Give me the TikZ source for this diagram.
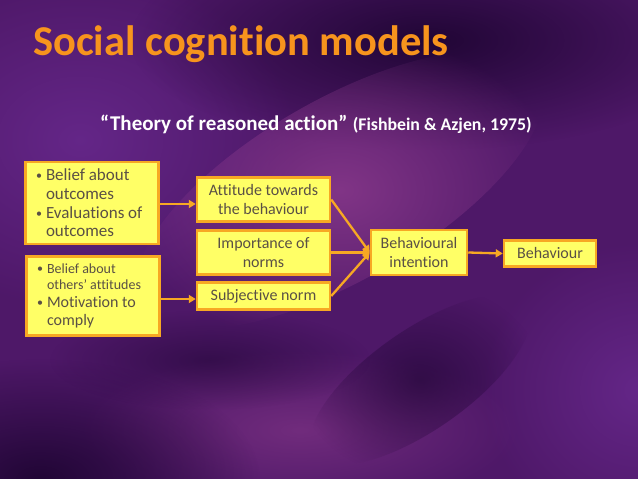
\documentclass[tikz,border=0pt]{standalone}
\usepackage{fontspec}
\setmainfont[Ligatures=NoCommon]{Carlito}
\usetikzlibrary{fadings,arrows.meta}
\definecolor{boxfill}{HTML}{FFFF66}
\definecolor{boxline}{HTML}{F7A823}
\definecolor{boxtext}{HTML}{5A5045}
\definecolor{titleor}{HTML}{F7941D}
\definecolor{bgbase}{HTML}{4E1868}
\definecolor{bgdark}{HTML}{1C0430}
\definecolor{bglight}{HTML}{8E3C8E}
\definecolor{bgviolet}{HTML}{6A2A90}
\tikzfading[name=glow, inner color=transparent!0, outer color=transparent!100]
\newcommand{\bul}{\makebox[11pt][l]{\hspace{1pt}\raisebox{0.8pt}{\fontsize{12}{12}\selectfont•}}}
\newcommand{\ind}{\hspace*{11pt}}
\begin{document}
\begin{tikzpicture}[x=1pt,y=-1pt,
  box/.style={draw=boxline, line width=2.5pt, fill=boxfill, text=boxtext,
    font=\fontsize{16}{18.3}\selectfont, align=center, inner sep=0pt},
  listbox/.style={box, align=flush left, text width=114pt, inner xsep=9.5pt},
  link/.style={draw=boxline, line width=2.3pt, -{Triangle[length=7pt,width=8pt]}},
  blob/.style={path fading=glow}]
\useasboundingbox (0,0) rectangle (638,479);
% background
\fill[bgbase] (0,0) rectangle (638,479);
\fill[bgviolet, blob, fill opacity=.8] (80,140) ellipse [x radius=220, y radius=170];
\fill[bgdark, blob, fill opacity=.9] (430,40) ellipse [x radius=300, y radius=110];
\fill[bglight, blob, fill opacity=.8, rotate around={30:(340,190)}] (340,190) ellipse [x radius=230, y radius=90];
\fill[bglight, blob, fill opacity=.55] (300,430) ellipse [x radius=220, y radius=80];
\fill[bgdark, blob, fill opacity=.9] (40,479) ellipse [x radius=220, y radius=120];
\fill[bgviolet, blob, fill opacity=.8] (640,390) ellipse [x radius=160, y radius=150];
\fill[bgdark, blob, fill opacity=.6, rotate around={35:(420,380)}] (420,380) ellipse [x radius=130, y radius=50];
\fill[bgdark, blob, fill opacity=.5] (210,360) ellipse [x radius=160, y radius=50];
% title
\node (title) [anchor=base west, text=titleor, inner sep=0pt,
  font=\fontsize{42.5}{50}\selectfont\bfseries] at (33,55) {Social cognition models};
\node (subtitle) [anchor=base west, text=white, inner sep=0pt, font=\bfseries] at (100,130)
  {{\fontsize{21}{24}\selectfont “Theory of reasoned action”}\hspace{3pt} {\fontsize{17.8}{19}\selectfont (Fishbein \& Azjen, 1975)}};
% boxes
\node (beliefs) [listbox, minimum height=82pt, font=\fontsize{17}{18.7}\selectfont] at (92,203)
  {\bul Belief about\\ \ind outcomes\\ \bul Evaluations of\\ \ind outcomes};
\node (normbel) [listbox, minimum height=79pt] at (93,296)
  {{\fontsize{14}{15.5}\selectfont\bul Belief about\\ \ind others’ attitudes\par}
   \bul Motivation to\\ \ind comply};
\node (attitude) [box, minimum width=133pt, minimum height=44pt] at (263.5,199.5)
  {Attitude towards\\the behaviour};
\node (importance) [box, minimum width=133pt, minimum height=44pt] at (263.5,252.5)
  {Importance of\\norms};
\node (subjnorm) [box, minimum width=133pt, minimum height=27pt] at (263.5,296)
  {Subjective norm};
\node (intention) [box, minimum width=96pt, minimum height=45pt] at (419,252.5)
  {Behavioural\\intention};
\node (behaviour) [box, minimum width=92pt, minimum height=26pt] at (550,253.5)
  {Behaviour};
% connectors
\draw[link] ([yshift=-1pt]beliefs.east) -- ([yshift=-1pt]beliefs.east -| attitude.west);
\draw[link] ([yshift=-3pt]normbel.east) -- ([yshift=-3pt]normbel.east -| subjnorm.west);
\draw[link] (attitude.east) -- (intention.west);
\draw[link] (importance.east) -- (intention.west);
\draw[link] (subjnorm.east) -- (intention.west);
\draw[link] (intention.east) -- (behaviour.west);
\end{tikzpicture}
\end{document}
